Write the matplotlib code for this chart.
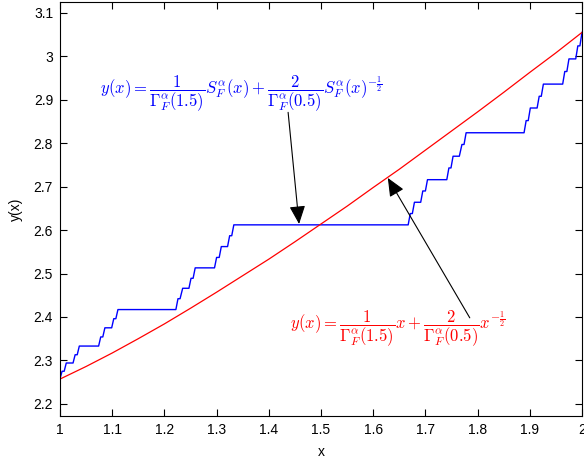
import matplotlib
matplotlib.use("Agg")
import matplotlib.pyplot as plt

# ---- data ----
red_x = [1.00, 1.05, 1.10, 1.15, 1.20, 1.25, 1.30, 1.35, 1.40, 1.45, 1.50,
         1.55, 1.60, 1.65, 1.70, 1.75, 1.80, 1.85, 1.90, 1.95, 2.00]
red_y = [2.257, 2.286, 2.317, 2.350, 2.384, 2.420, 2.457, 2.495, 2.533, 2.573, 2.614,
         2.655, 2.698, 2.740, 2.784, 2.828, 2.872, 2.917, 2.963, 3.008, 3.055]

blue_start = (1.000, 2.258)
blue_end = (2.000, 3.055)
flat_start = [1.004, 1.012, 1.029, 1.037, 1.078, 1.086, 1.103, 1.111,
              1.226, 1.235, 1.251, 1.259, 1.300, 1.309, 1.325, 1.333,
              1.671, 1.679, 1.695, 1.704, 1.745, 1.753, 1.770, 1.778,
              1.893, 1.901, 1.918, 1.926, 1.967, 1.975, 1.992]
flat_end = [1.008, 1.025, 1.033, 1.074, 1.082, 1.099, 1.107, 1.222,
            1.230, 1.247, 1.255, 1.296, 1.305, 1.321, 1.329, 1.667,
            1.675, 1.691, 1.700, 1.741, 1.749, 1.765, 1.774, 1.889,
            1.897, 1.914, 1.922, 1.963, 1.971, 1.988, 1.996]
flat_y = [2.275, 2.294, 2.313, 2.333, 2.354, 2.375, 2.396, 2.417,
          2.442, 2.466, 2.489, 2.513, 2.537, 2.562, 2.587, 2.612,
          2.638, 2.664, 2.690, 2.716, 2.743, 2.770, 2.797, 2.824,
          2.852, 2.881, 2.908, 2.936, 2.965, 2.994, 3.024]

x_ticks = [1, 1.1, 1.2, 1.3, 1.4, 1.5, 1.6, 1.7, 1.8, 1.9, 2]
x_ticklabels = ['1', '1.1', '1.2', '1.3', '1.4', '1.5', '1.6', '1.7', '1.8', '1.9', '2']
y_ticks = [2.2, 2.3, 2.4, 2.5, 2.6, 2.7, 2.8, 2.9, 3.0, 3.1]
y_ticklabels = ['2.2', '2.3', '2.4', '2.5', '2.6', '2.7', '2.8', '2.9', '3', '3.1']

blue_text = r'$y(x)=\dfrac{1}{\Gamma_F^{\alpha}(1.5)}S_F^{\alpha}(x)+\dfrac{2}{\Gamma_F^{\alpha}(0.5)}S_F^{\alpha}(x)^{-\frac{1}{2}}$'
red_text = r'$y(x)=\dfrac{1}{\Gamma_F^{\alpha}(1.5)}x+\dfrac{2}{\Gamma_F^{\alpha}(0.5)}x^{-\frac{1}{2}}$'

# ---- build blue staircase path ----
bx = [blue_start[0]]
by = [blue_start[1]]
for s, e, v in zip(flat_start, flat_end, flat_y):
    bx += [s, e]
    by += [v, v]
bx.append(blue_end[0])
by.append(blue_end[1])

plt.rcParams['font.family'] = ['Liberation Sans', 'DejaVu Sans']
plt.rcParams['mathtext.fontset'] = 'cm'

fig = plt.figure(figsize=(5.84, 4.59), dpi=100)
ax = fig.add_axes([60/584, 43/459, 522/584, 414/459])

ax.plot(bx, by, color=(0, 0, 1), lw=1.0)
ax.plot(red_x, red_y, color=(1, 0, 0), lw=0.9)

ax.set_xlim(1, 2)
ax.set_ylim(2.172, 3.125)
ax.set_xticks(x_ticks)
ax.set_xticklabels(x_ticklabels)
ax.set_yticks(y_ticks)
ax.set_yticklabels(y_ticklabels)
ax.tick_params(direction='in', length=5, width=0.8, top=True, right=True,
               labelsize=10, colors='k', pad=5)
for sp in ax.spines.values():
    sp.set_linewidth(0.8)

ax.set_xlabel('x', fontsize=10, labelpad=6)
ax.set_ylabel('y(x)', fontsize=10, labelpad=8)

ax.text(1.077, 2.915, blue_text, color=(0, 0, 1), fontsize=12, ha='left', va='center')
ax.text(1.441, 2.375, red_text, color=(1, 0, 0), fontsize=12, ha='left', va='center')

arrow_props = dict(arrowstyle='-|>,head_length=0.8,head_width=0.35', color='k',
                   lw=0.8, shrinkA=0, shrinkB=0, mutation_scale=14)
ax.annotate('', xy=(1.458, 2.614), xytext=(1.437, 2.871), arrowprops=arrow_props)
ax.annotate('', xy=(1.628, 2.720), xytext=(1.785, 2.398), arrowprops=arrow_props)

fig.savefig('out.png', dpi=100)
